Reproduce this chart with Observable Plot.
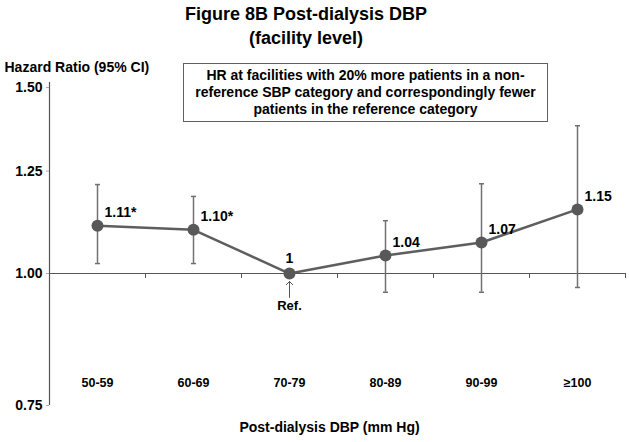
<!DOCTYPE html>
<html>
<head>
<meta charset="utf-8">
<script src="https://cdn.jsdelivr.net/npm/d3@7"></script>
<script src="https://cdn.jsdelivr.net/npm/@observablehq/plot@0.6"></script>
<style>
  body { margin: 0; background: #fff; font-family: "Liberation Sans", Arial, sans-serif; }
  #wrap { position: relative; width: 629px; height: 442px; overflow: hidden; background: #fff; }
  #title { height: 50px; box-sizing: border-box; padding-top: 2px; padding-right: 17px; text-align: center;
           font-weight: bold; font-size: 18px; line-height: 24px; color: #000; }
  #box { position: absolute; left: 183px; top: 63px; width: 365px; height: 59px; box-sizing: border-box;
         border: 1.5px solid #606060; background: #fff; text-align: center; font-weight: bold;
         font-size: 14px; line-height: 17px; padding-top: 3px; white-space: nowrap; color: #000; }
  #chart svg { display: block; }
</style>
</head>
<body>
<div id="wrap">
  <div id="title"></div>
  <div id="chart"></div>
  <div id="box"></div>
</div>
<script>
// ---- data ----
const titleLines = ["Figure 8B Post-dialysis DBP", "(facility level)"];
const boxLines = [
  "HR at facilities with 20% more patients in a non-",
  "reference SBP category and correspondingly fewer",
  "patients in the reference category"
];
const categories = ["50-59", "60-69", "70-79", "80-89", "90-99", "\u2265100"];
const hazardRatio = [1.11, 1.10, 1.00, 1.04, 1.07, 1.15];
const ciLower = [1.022, 1.022, null, 0.96, 0.96, 0.97];
const ciUpper = [1.214, 1.183, null, 1.122, 1.216, 1.38];
const pointLabels = ["1.11*", "1.10*", "1", "1.04", "1.07", "1.15"];
const referenceCategory = "70-79";
const referenceText = "Ref.";
const yTicks = [0.75, 1.00, 1.25, 1.50];
const yDomain = [0.75, 1.50];
const baseline = 1;
const yLabel = "Hazard Ratio (95% CI)";
const xLabel = "Post-dialysis DBP (mm Hg)";

// ---- build ----
document.getElementById("title").innerHTML = titleLines.join("<br>");
document.getElementById("box").innerHTML = boxLines.join("<br>");

const rows = categories.map((cat, i) => ({
  i, cat, hr: hazardRatio[i], lo: ciLower[i], hi: ciUpper[i],
  label: pointLabels[i], isRef: cat === referenceCategory
}));
const withCI = rows.filter(d => d.lo != null && d.hi != null);
const nonRef = rows.filter(d => !d.isRef);
const refRow = rows.filter(d => d.isRef);
const boundaries = categories.map((c, i) => i + 0.5);

const capSymbol = {
  draw(context, size) {
    const w = Math.sqrt(size / Math.PI);
    context.moveTo(-w, 0);
    context.lineTo(w, 0);
  }
};

const bold = {fontWeight: "bold", fill: "#000"};

const chart = Plot.plot({
  width: 629,
  height: 392,
  marginLeft: 49,
  marginRight: 4,
  marginTop: 37,
  marginBottom: 37,
  style: {fontFamily: "'Liberation Sans', Arial, sans-serif", fontSize: "14px", background: "#fff", color: "#000"},
  x: {type: "linear", domain: [-0.5, categories.length - 0.5], axis: null},
  y: {type: "log", domain: yDomain, axis: null},
  marks: [
    // y axis line
    Plot.ruleX([-0.5], {y1: yDomain[1], y2: yDomain[0], insetTop: -5, stroke: "#555", strokeWidth: 1.2}),
    Plot.axisY({ticks: yTicks, tickFormat: d3.format(".2f"), tickSize: 3, tickPadding: 4,
                stroke: "#aaa", fill: "#000", fontSize: 14, fontWeight: "bold", label: null}),
    // baseline axis at HR = 1 with category boundary ticks
    Plot.ruleY([baseline], {stroke: "#555", strokeWidth: 1.2}),
    Plot.ruleX(boundaries, {x: d => d, y1: baseline, y2: baseline, insetBottom: -5, stroke: "#555", strokeWidth: 1}),
    // confidence intervals
    Plot.ruleX(withCI, {x: "i", y1: "lo", y2: "hi", stroke: "#707070", strokeWidth: 1.5}),
    Plot.dot(withCI, {x: "i", y: "lo", symbol: capSymbol, r: 2.5, stroke: "#707070", strokeWidth: 1.5}),
    Plot.dot(withCI, {x: "i", y: "hi", symbol: capSymbol, r: 2.5, stroke: "#707070", strokeWidth: 1.5}),
    // line + points
    Plot.line(rows, {x: "i", y: "hr", stroke: "#5e5e5e", strokeWidth: 2.5}),
    Plot.dot(rows, {x: "i", y: "hr", r: 6, fill: "#585858", stroke: "none"}),
    // value labels
    Plot.text(nonRef, {x: "i", y: "hr", text: "label", textAnchor: "start", dx: 7, dy: -13, fontSize: 14, ...bold}),
    Plot.text(refRow, {x: "i", y: "hr", text: "label", dy: -15, fontSize: 14, ...bold}),
    // reference arrow + text
    Plot.vector(refRow, {x: "i", y: "hr", length: 16, rotate: 0, anchor: "end", dy: 8, stroke: "#555", strokeWidth: 1}),
    Plot.text(refRow, {x: "i", y: "hr", text: () => referenceText, dy: 32, fontSize: 13, ...bold}),
    // category labels
    Plot.text(rows, {x: "i", text: "cat", frameAnchor: "bottom", dy: -19, fontSize: 12.5, ...bold}),
    // axis titles
    Plot.text([yLabel], {text: d => d, frameAnchor: "top-left", textAnchor: "start", dx: -45, dy: -25, fontSize: 14, ...bold}),
    Plot.text([xLabel], {text: d => d, frameAnchor: "bottom", dx: -8, dy: 26, fontSize: 14, ...bold})
  ]
});
document.getElementById("chart").appendChild(chart);
</script>
</body>
</html>
